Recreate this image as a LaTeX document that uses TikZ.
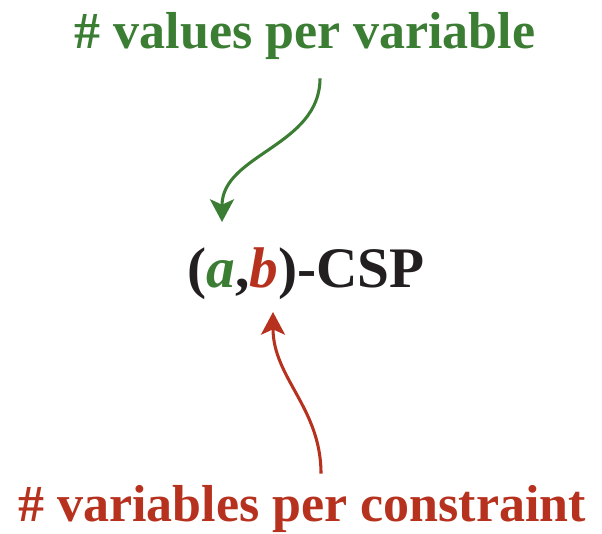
\documentclass[tikz,border=0pt]{standalone}
\usepackage{fontspec}
\setmainfont{Liberation Serif}
\usepackage{xcolor}
\usetikzlibrary{arrows.meta,positioning,calc}

\definecolor{valgreen}{RGB}{58,125,51}
\definecolor{varred}{RGB}{183,50,30}
\definecolor{inkblack}{RGB}{35,31,32}

\begin{document}
\begin{tikzpicture}[
    x=0.75pt, y=0.75pt,
    lbl/.style={inner sep=0pt, anchor=base, font=\fontsize{39}{46}\selectfont\bfseries},
    arrow/.style={-{Stealth[length=17pt, width=18pt, inset=4pt]}, line width=2.3pt}
]
\useasboundingbox (0,0) rectangle (602,533);

% Problem name (middle)
\node[lbl, text=inkblack, font=\fontsize{43}{50}\selectfont\bfseries] (csp) at (306,246)
    {(\textcolor{valgreen}{\itshape a},\textcolor{varred}{\itshape b})-CSP};

% Labels
\node[lbl, text=valgreen] (values) at ($(csp.base)+(-1,238)$) {\# values per variable};
\node[lbl, text=varred] (vars) at ($(csp.base)+(-4,-234)$) {\# variables per constraint};

% Pointers
\draw[arrow, valgreen] ($(values.south)+(15,-18)$) to[out=-90, in=90] ($(csp.base)+(-84,65)$);
\draw[arrow, varred] ($(vars.north)+(19,11)$) to[out=90, in=-90] ($(csp.base)+(-33,-25)$);
\end{tikzpicture}
\end{document}
